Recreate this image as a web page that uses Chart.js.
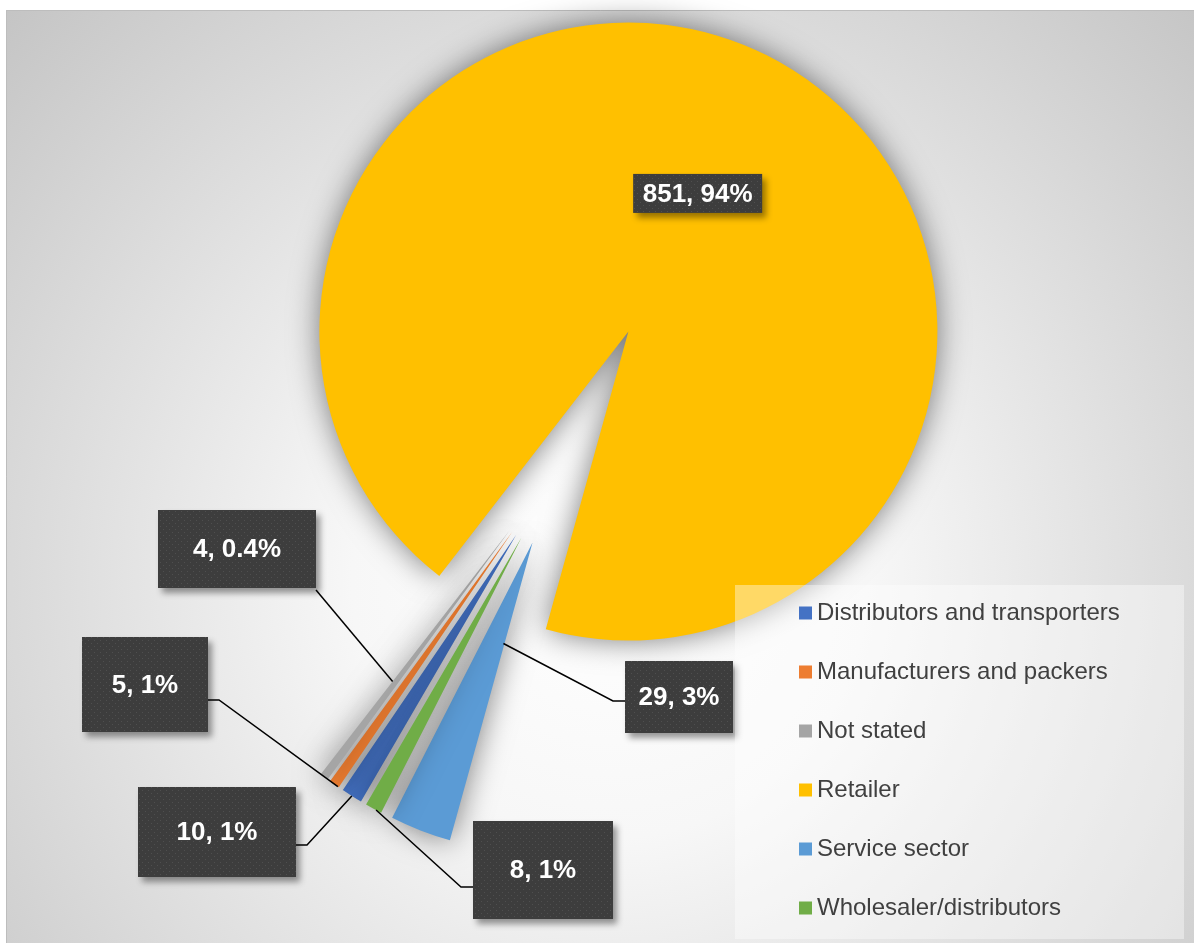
<!DOCTYPE html>
<html>
<head>
<meta charset="utf-8">
<title>Complaints by business type</title>
<script src="https://cdn.jsdelivr.net/npm/chart.js@4/dist/chart.umd.min.js"></script>
<style>
  body { margin: 0; background: #fff; }
  canvas { display: block; }
</style>
</head>
<body>
<canvas id="myChart" width="1194" height="943"></canvas>
<script>
var categories = ["Distributors and transporters", "Manufacturers and packers", "Not stated", "Retailer", "Service sector", "Wholesaler/distributors"];
var counts = [10, 5, 4, 851, 29, 8];
var colours = ['#4472C4', '#ED7D31', '#A5A5A5', '#FFC000', '#5B9BD5', '#70AD47'];

// how far each slice is pulled away from the centre (px)
var explode = [95, 95, 95, 137, 95, 95];

// label boxes [left, top, width, height]; null = sits inside its slice
var calloutBox = [
    [138, 787, 158, 90],
    [82, 637, 126, 95],
    [158, 510, 158, 78],
    null,
    [625, 661, 108, 72],
    [473, 821, 140, 98]
];
// leader line: start on the box and elbow, then on to the slice
var leaderPath = [
    [[296, 845], [307, 845]],
    [[208, 700], [219, 700]],
    [[316, 590]],
    null,
    [[625, 701], [613, 701]],
    [[473, 887], [461, 887]]
];
// where the leader meets the slice: [share of radius, share across the slice]
var leaderTip = [[1, 0.5], [1, 0.1], [0.62, 1], null, [0.34, 0.05], [1, 0.33]];

var total = counts.reduce(function (a, b) { return a + b; }, 0);

function pctText(v) {
    var p = v / total * 100;
    return (Math.round(p) === 0 ? p.toFixed(1) : Math.round(p)) + '%';
}

// dotted fill for the label boxes
var dots = document.createElement('canvas');
dots.width = 6;
dots.height = 6;
var dctx = dots.getContext('2d');
dctx.fillStyle = '#3d3d3d';
dctx.fillRect(0, 0, 6, 6);
dctx.fillStyle = '#4f4f4f';
dctx.fillRect(1, 1, 1, 1);
dctx.fillRect(4, 4, 1, 1);

var background = {
    id: 'background',
    beforeDraw: function (chart) {
        var c = chart.ctx;
        var g = c.createRadialGradient(610, 580, 0, 610, 580, 860);
        g.addColorStop(0, '#ffffff');
        g.addColorStop(0.3, '#f7f7f7');
        g.addColorStop(1, '#c2c2c2');
        c.save();
        c.fillStyle = g;
        c.fillRect(6, 10, chart.width - 6, chart.height - 10);
        c.strokeStyle = '#bdbdbd';
        c.lineWidth = 1;
        c.beginPath();
        c.moveTo(6.5, chart.height);
        c.lineTo(6.5, 10.5);
        c.lineTo(chart.width, 10.5);
        c.stroke();
        c.restore();
    }
};

var explodeSlices = {
    id: 'explodeSlices',
    afterDatasetUpdate: function (chart, args) {
        args.meta.data.forEach(function (arc, i) {
            var mid = (arc.startAngle + arc.endAngle) / 2;
            arc.x += Math.cos(mid) * explode[i];
            arc.y += Math.sin(mid) * explode[i];
        });
    },
    // soft grey glow round every slice
    beforeDatasetsDraw: function (chart) {
        var c = chart.ctx;
        c.save();
        c.shadowColor = 'rgba(0, 0, 0, 0.5)';
        c.shadowBlur = 30;
        c.shadowOffsetX = 0;
        c.shadowOffsetY = 0;
    },
    afterDatasetsDraw: function (chart) {
        chart.ctx.restore();
    }
};

var callouts = {
    id: 'callouts',
    afterDatasetsDraw: function (chart) {
        var c = chart.ctx;
        var arcs = chart.getDatasetMeta(0).data;
        c.save();
        c.shadowColor = 'transparent';
        c.strokeStyle = '#000';
        c.lineWidth = 1.5;
        arcs.forEach(function (arc, i) {
            if (!leaderPath[i]) return;
            var t = leaderTip[i];
            var ang = arc.startAngle + (arc.endAngle - arc.startAngle) * t[1];
            var r = arc.outerRadius * t[0];
            c.beginPath();
            leaderPath[i].forEach(function (p, k) {
                if (k) c.lineTo(p[0], p[1]); else c.moveTo(p[0], p[1]);
            });
            c.lineTo(arc.x + Math.cos(ang) * r, arc.y + Math.sin(ang) * r);
            c.stroke();
        });

        var pattern = c.createPattern(dots, 'repeat');
        c.font = 'bold 26px "Liberation Sans", Arial, sans-serif';
        c.textAlign = 'center';
        c.textBaseline = 'middle';
        arcs.forEach(function (arc, i) {
            var b = calloutBox[i];
            if (!b) {
                var mid = (arc.startAngle + arc.endAngle) / 2;
                var cx = arc.x + Math.cos(mid) * arc.outerRadius * 0.5;
                var cy = arc.y + Math.sin(mid) * arc.outerRadius * 0.5;
                b = [cx - 64.5, cy - 19.5, 129, 39];
            }
            c.save();
            c.shadowColor = 'rgba(0, 0, 0, 0.4)';
            c.shadowBlur = 6;
            c.shadowOffsetX = 4;
            c.shadowOffsetY = 5;
            c.fillStyle = pattern;
            c.fillRect(b[0], b[1], b[2], b[3]);
            c.restore();
            c.fillStyle = '#fff';
            c.fillText(counts[i] + ', ' + pctText(counts[i]), b[0] + b[2] / 2, b[1] + b[3] / 2 + 1);
        });
        c.restore();
    }
};

var legendBox = {
    id: 'legendBox',
    afterDraw: function (chart) {
        var c = chart.ctx;
        c.save();
        c.fillStyle = 'rgba(255, 255, 255, 0.4)';
        c.fillRect(735, 585, 449, 354);
        c.font = '24px "Liberation Sans", Arial, sans-serif';
        c.textBaseline = 'middle';
        categories.forEach(function (name, i) {
            var y = 613 + i * 59;
            c.fillStyle = colours[i];
            c.fillRect(799, y - 6.5, 13, 13);
            c.fillStyle = '#404040';
            c.fillText(name, 817, y);
        });
        c.restore();
    }
};

var ctx = document.getElementById("myChart");

var myChart = new Chart(ctx, {
    type: 'pie',
    data: {
        labels: categories,
        datasets: [
            {
                data: counts,
                backgroundColor: colours,
                borderWidth: 0,
                clip: false
            }
        ]
    },
    options: {
        responsive: false,
        animation: false,
        events: [],
        rotation: 210.2,
        radius: 309,
        layout: {
            padding: { left: 0, right: 60, top: 0, bottom: 35 }
        },
        plugins: {
            legend: { display: false },
            tooltip: { enabled: false }
        }
    },
    plugins: [background, explodeSlices, callouts, legendBox]
});
</script>
</body>
</html>
